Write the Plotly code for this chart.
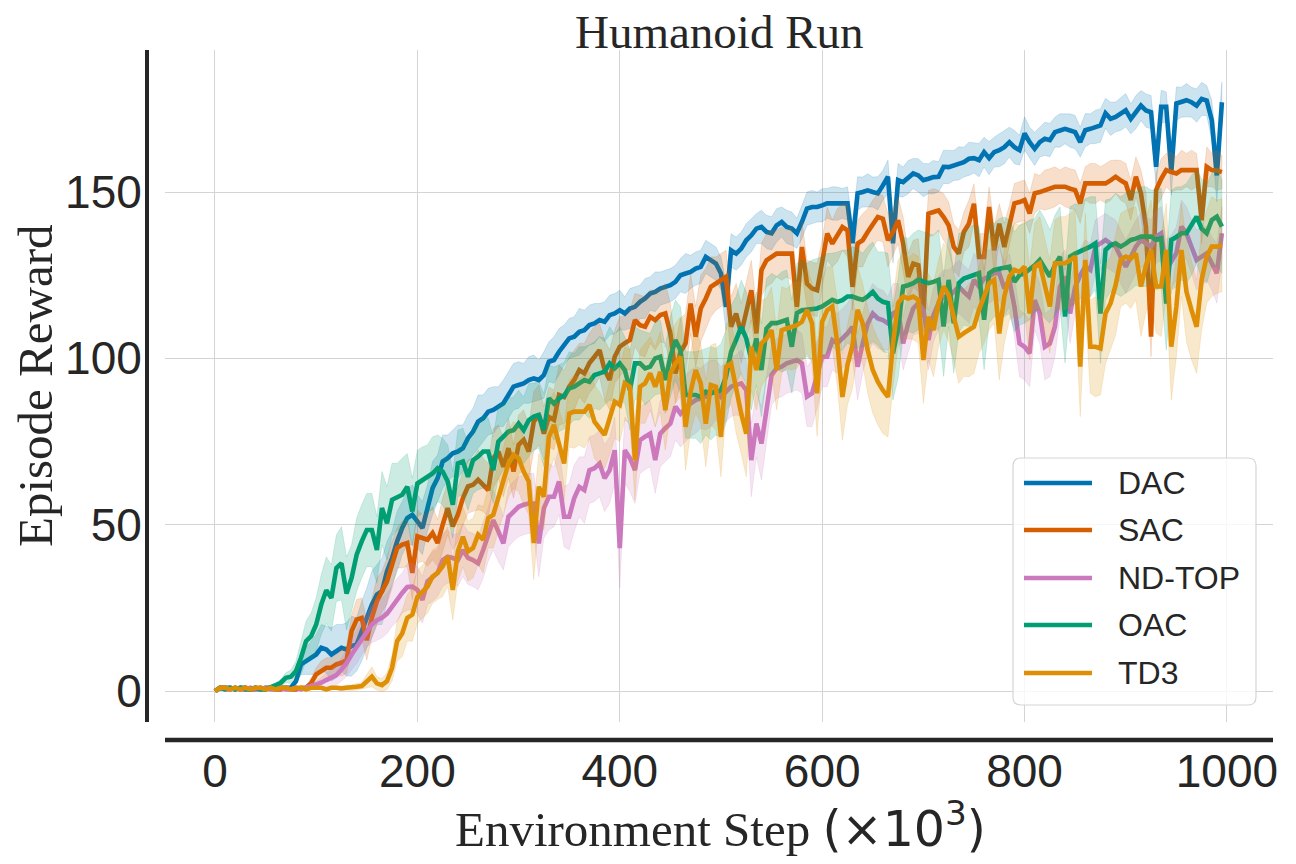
import numpy as np
import plotly.graph_objects as go

STEPS = list(range(0, 1000, 5))  # environment steps (x10^3)

NAMES = ["DAC", "SAC", "ND-TOP", "OAC", "TD3"]
COLORS = ["#0173b2", "#d55e00", "#cc78bc", "#029e73", "#de8f05"]

DAC = [
    0, 1, 1, 1, 0.5, 1, 1, 0.5, 1, 0.5,
    1, 1, 0.5, 1, 1, 1, 3, 8, 9, 10,
    11, 13, 12.5, 11, 12, 13, 12.5, 13.5, 14, 18,
    22, 26, 29, 30, 36, 40, 45, 49, 52, 53,
    51, 49, 55, 61, 64, 69, 70, 71.5, 72, 73,
    76, 78, 81, 82, 84, 84.5, 85.5, 86.5, 89, 91.5,
    92, 92.5, 93.5, 94, 93.5, 95, 99, 99.5, 102, 104,
    106, 106.5, 108, 108.5, 110, 110.5, 111.5, 111, 113, 113.5,
    114.5, 113.5, 115, 115.5, 117, 118, 119.5, 120, 121, 121.5,
    122, 123, 125, 125.5, 126, 127, 127.5, 130.5, 129.5, 128.5,
    125.5, 115.5, 132.5, 131.5, 133, 135.5, 137, 139, 139.5, 138,
    137.6, 140, 141, 139.5, 139, 137.6, 141, 145, 145.5, 145.5,
    146, 146.6, 146.6, 146.5, 146.6, 146.6, 134.6, 149.6, 150, 150.5,
    150, 149.6, 152, 154.6, 134.6, 153.6, 153, 154.5, 155.6, 155,
    153.6, 154, 154.5, 154.6, 157.6, 157.5, 158, 158.6, 159, 160,
    160.2, 159.6, 162, 160.2, 162, 162.6, 163.5, 165, 163.5, 162.6,
    167.6, 165, 163, 165, 166, 165.6, 168, 168.5, 169, 168.5,
    168, 165, 168.6, 169, 169.6, 170, 173.7, 172, 172.6, 173.5,
    174.6, 172, 174, 176, 174.5, 174, 157.6, 175.6, 175.6, 156,
    176.6, 177, 177.6, 177, 176, 178, 177.5, 171.6, 155, 177,
]
SAC = [
    0, 1, 1, 0.5, 1, 0.5, 1, 0.5, 0.5, 1,
    0.5, 1, 0.5, 0.5, 1, 0.5, 0.5, 1, 1, 2.4,
    5, 6, 7, 7, 8, 8.5, 9.3, 18, 21.5, 22,
    15.3, 22, 27, 30, 33, 38, 43, 44, 44.5, 35.5,
    46.5, 46, 45.5, 47.5, 44.5, 50, 55, 49.5, 53, 58,
    61.5, 62, 63.5, 62, 60.4, 70, 72, 67.4, 73, 66,
    74, 75.5, 72, 81, 83, 77.4, 82.4, 81.5, 89, 88.4,
    91.5, 93.5, 96.5, 95.5, 98.6, 100.5, 102.5, 96.5, 93.5, 100.5,
    103.5, 104.6, 105.5, 111.5, 110, 109.5, 112.5, 111.5, 113, 113.5,
    107.5, 95.5, 102, 104.5, 116.5, 106.5, 115, 118, 121.5, 122.5,
    123.5, 124.5, 109.5, 113.5, 107.5, 114.5, 120.5, 107.5, 126.5, 129.5,
    130.5, 131.5, 131.5, 131.5, 131.5, 115.5, 133.5, 122.5, 121, 120.5,
    128.5, 137.5, 134.5, 137, 139.5, 138.5, 121.5, 134.5, 135.5, 138,
    140.5, 142.5, 142, 135.5, 138, 141.5, 134.5, 124.5, 128.5, 128,
    112.5, 143.5, 144, 144.5, 142.5, 140, 133.5, 131.5, 138, 140.5,
    146.5, 130.5, 130.5, 145.5, 132.5, 140.5, 133.5, 140, 146.6, 147,
    147.6, 143.6, 149.6, 150, 150.6, 151, 151.6, 151.6, 151.6, 151,
    150.6, 146.6, 152.6, 152.6, 152.6, 152.6, 152.6, 153.5, 154.6, 153.5,
    152.6, 147.6, 154.6, 149.6, 139.5, 106.5, 150.6, 154, 156.6, 156,
    155.6, 156.6, 156.6, 156.6, 156.6, 141.5, 157.6, 156.6, 156.5, 156,
]
NDTOP = [
    0, 1, 0.5, 0.5, 1, 0.5, 0.5, 1, 0.5, 0.5,
    1, 0.5, 0.5, 1, 0.5, 0.5, 1, 0.5, 1, 1.5,
    1.8, 2.5, 3.3, 4, 4.8, 6.5, 8.4, 11, 13.3, 16,
    18.3, 20, 21.3, 22, 23.3, 25.5, 27.4, 29.5, 31.3, 31.4,
    30.4, 27.4, 33, 34.4, 35.5, 39.4, 40.4, 40, 39.4, 42.4,
    40, 39.4, 38.4, 42.4, 47, 51.4, 48, 44.4, 52.4, 54,
    55.4, 56, 56.4, 56.4, 44.4, 55, 58.4, 58.4, 63, 52.4,
    52.4, 58, 61.4, 60.4, 66.4, 67, 68.4, 64, 66.4, 72.4,
    43, 72.4, 70, 66.4, 75.4, 76.5, 77.4, 69.4, 77.4, 79,
    80.4, 85.5, 83.4, 85, 86.5, 87.5, 88, 88.5, 89.5, 90.5,
    88.5, 90, 91.5, 92, 92.5, 90.5, 69.4, 80.4, 74.4, 84.5,
    95, 97, 97.5, 98.5, 99, 99.5, 98.5, 88.5, 89.5, 95,
    100.5, 100.5, 105.5, 104.5, 106, 107.5, 109.5, 97.5, 104.5, 110.5,
    113.5, 112, 111.5, 110.5, 113.5, 114.5, 104.5, 110.5, 115, 116.6,
    114.5, 105.5, 113, 116.6, 118.6, 118.6, 120, 121.6, 120, 118.6,
    123.6, 121.6, 124, 124.6, 125.6, 125.6, 121, 123.5, 115.5, 104.5,
    103.5, 101.5, 117.5, 113.5, 103.5, 104.5, 109.5, 121.5, 124.6, 113.5,
    121.5, 125, 127.6, 126.6, 133.6, 134.5, 135.6, 134.5, 133.6, 130.5,
    127.6, 130.5, 133.6, 135.6, 134.5, 133.6, 136.6, 137.6, 126.6, 129,
    131.6, 139.6, 137.6, 133.5, 129.6, 130.6, 131.6, 128.6, 125.6, 137.6,
]
OAC = [
    0, 1, 0.5, 1, 0.5, 1, 0.5, 0.5, 1, 0.5,
    0.5, 1.3, 1.8, 2.5, 4, 4.3, 6, 10, 15, 16.5,
    20, 26, 30.3, 28, 37, 38.4, 29.3, 34, 41, 45,
    48.4, 48.4, 42.4, 55, 50.4, 57.5, 58.4, 59, 61.4, 54,
    62.4, 63.4, 64, 65.4, 67, 66, 63, 56, 68.4, 69,
    64.4, 69.4, 70.5, 72, 72, 66.4, 75, 76.5, 78, 78.4,
    80.4, 78.4, 81.4, 82.5, 83, 78.4, 88, 86.4, 88, 88.8,
    91, 91.5, 92.5, 93.5, 93, 95, 95.5, 96, 98.5, 97,
    98.5, 96.5, 90.5, 98.5, 98.5, 97, 97.5, 100, 100.5, 93.5,
    100.5, 105.5, 102.5, 89, 89, 89, 88.4, 90, 89.5, 90,
    90.4, 94.5, 102, 105.6, 109.5, 106, 99.5, 106, 96.5, 109,
    110.6, 110.6, 111, 111.6, 103.5, 113.6, 114.5, 114.6, 114.6, 115,
    115.6, 116.5, 117.6, 117, 117.5, 118.6, 118.6, 118, 117.6, 118.6,
    120, 118, 117, 116.6, 101.5, 109, 121.6, 122, 122.6, 123.6,
    123, 122.6, 123, 123.6, 109.6, 123.6, 110.6, 122.6, 124, 124.6,
    125, 125.6, 111.6, 125.6, 126.6, 127, 127.5, 127.6, 123, 125,
    125.6, 126.6, 128, 129.6, 127, 124.6, 128, 130.6, 112.6, 130.6,
    131.5, 132.1, 133, 133.6, 134.6, 113.5, 132.6, 134, 134.6, 133.6,
    134.5, 135.6, 136, 136.6, 136.6, 136.6, 135.6, 136.1, 116.5, 135.6,
    136.5, 137.6, 137.6, 140, 142.6, 139, 137.6, 141.6, 142.6, 139.6,
]
TD3 = [
    0, 1, 1, 0.5, 1, 0.5, 1, 0.5, 1, 1,
    0.5, 1, 0.5, 1, 1, 0.5, 1, 1, 0.5, 1,
    1, 1, 0.5, 1, 1, 0.8, 1, 1, 1.3, 1.5,
    3, 4.3, 2.3, 1.8, 3, 7, 15, 17.3, 22, 23,
    28.3, 30, 31.4, 34.4, 35.5, 37.5, 40.4, 30.4, 42, 46.4,
    42, 43, 47, 45.5, 52, 53, 58, 63.4, 68.4, 71,
    70, 66, 63, 44.5, 61.4, 58.4, 76.4, 80, 74.4, 68.4,
    83.4, 84, 84, 84, 86, 81, 79, 77, 82, 87,
    86, 92.5, 91.5, 69.4, 91.5, 92.5, 95.5, 91.5, 96, 84.4,
    95.5, 98.5, 100.5, 79.4, 90, 96.5, 92.5, 80.4, 92, 91.5,
    76.4, 97.5, 98.5, 90.5, 83.4, 77.4, 103.5, 96.5, 104.5, 106,
    108.5, 96.5, 108.5, 109, 109.5, 110, 111, 114.6, 110.5, 89.5,
    111, 114.5, 115.6, 104.5, 88.4, 98, 104, 114.6, 110.5, 102.5,
    96.5, 93, 90.4, 88.4, 104.5, 116.6, 118.6, 118, 118.6, 117.6,
    99.5, 112.5, 108.5, 116.6, 121.6, 119, 112.5, 106.5, 107.6, 108.5,
    109.5, 114.6, 118.6, 122.6, 123.6, 107.5, 118.6, 124.6, 126.6, 126,
    127.6, 113.5, 127.6, 128.6, 122, 115.6, 128.6, 128.6, 128.6, 129.5,
    130.6, 97.5, 129.6, 103.5, 103.5, 103, 113.5, 116.6, 122, 129.6,
    130.6, 130, 131.6, 121.6, 128, 132.6, 121.6, 121.6, 132.6, 103.5,
    115.5, 132.6, 120, 114.5, 109.5, 123.6, 130.6, 133.6, 133.6, 134,
]

# half-width of the shaded confidence band
DAC_SD = [
    0, .3, .3, .3, .3, .3, .3, .3, .3, .3,
    .3, .3, .3, .3, .3, .3, 1, 3, 4, 5,
    6, 7, 7, 8, 8, 7, 8, 9, 8, 9,
    9, 10, 9, 10, 9, 8, 9, 8, 8, 9,
    8, 8, 7, 8, 7, 8, 7, 7, 8, 7,
    7, 7, 8, 7, 7, 7, 6, 7, 7, 7,
    7, 6, 7, 7, 6, 7, 6, 7, 7, 6,
    6, 6, 7, 6, 6, 6, 5, 6, 6, 6,
    6, 5, 6, 6, 5, 6, 5, 6, 5, 5,
    5, 5, 5, 6, 5, 5, 5, 5, 5, 5,
    5, 7, 5, 5, 5, 5, 5, 4.5, 5, 5,
    5, 5, 4.5, 5, 5, 4.5, 5, 5, 5, 4.5,
    5, 4.5, 5, 5, 4.5, 5, 6, 5, 4.5, 5,
    4.5, 5, 4.5, 5, 6, 5, 4.5, 5, 4.5, 5,
    5, 4.5, 5, 4.5, 5, 5, 4.5, 5, 4.5, 5,
    4.5, 5, 4.5, 5, 4.5, 5, 5, 4.5, 5, 4.5,
    5, 4.5, 5, 4.5, 5, 5, 4.5, 5, 4.5, 5,
    5, 4.5, 5, 4.5, 5, 5, 4.5, 5, 4.5, 5,
    5, 4.5, 5, 4.5, 5, 5, 6, 5, 4.5, 7,
    5, 4.5, 5, 4.5, 5, 5, 4.5, 6, 8, 6,
]
SAC_SD = [
    0, .3, .3, .3, .3, .3, .3, .3, .3, .3,
    .3, .3, .3, .3, .3, .3, .3, .3, .3, 1.5,
    2, 3, 3, 3, 3, 4, 4, 5, 6, 6,
    6, 6, 7, 6, 7, 7, 6, 7, 7, 8,
    8, 7, 8, 8, 7, 8, 8, 7, 8, 8,
    8, 8, 9, 8, 8, 9, 8, 9, 9, 8,
    9, 9, 8, 9, 9, 8, 9, 9, 9, 8,
    9, 9, 8, 9, 9, 9, 8, 9, 9, 8,
    9, 8, 9, 8, 9, 9, 8, 9, 8, 9,
    9, 9, 10, 9, 9, 9, 10, 9, 9, 8,
    8, 8, 9, 9, 9, 9, 9, 8, 8, 8,
    8, 7, 8, 7, 8, 8, 8, 7, 8, 8,
    7, 8, 7, 8, 7, 8, 7, 7, 8, 7,
    7, 7, 7, 8, 7, 7, 8, 7, 7, 8,
    8, 7, 7, 6, 7, 7, 7, 7, 6, 7,
    6, 7, 7, 6, 7, 6, 7, 6, 6, 6,
    6, 6, 6, 5, 6, 6, 6, 5, 6, 6,
    6, 6, 5, 6, 6, 5, 6, 6, 5, 6,
    6, 6, 6, 7, 10, 6, 5, 6, 5, 6,
    5, 6, 5, 6, 5, 7, 6, 5, 6, 5,
]
NDTOP_SD = [
    0, .3, .3, .3, .3, .3, .3, .3, .3, .3,
    .3, .3, .3, .3, .3, .3, .3, .3, .3, .8,
    1, 1.5, 2, 2.5, 3, 3.5, 4, 4.5, 5, 5,
    5, 5.5, 6, 6, 6, 6, 6.5, 6, 7, 7,
    7, 7, 7, 7.5, 7, 8, 8, 7, 8, 8,
    8, 8, 8, 8.5, 8, 9, 9, 8, 9, 9,
    9, 9, 9, 9, 10, 9, 10, 9, 10, 9,
    10, 10, 9, 10, 10, 10, 10, 10, 10, 10,
    12, 10, 10, 10, 10, 10, 10, 10, 10, 10,
    10, 10, 10, 10, 10, 10, 9, 10, 10, 9,
    9, 9, 9, 9, 10, 9, 11, 10, 11, 10,
    9, 9, 9, 9, 9, 9, 9, 9, 10, 10,
    9, 9, 9, 9, 9, 9, 10, 10, 9, 9,
    9, 9, 9, 8, 9, 8, 8, 9, 8, 9,
    9, 9, 8, 8, 8, 8, 8, 8, 8, 8,
    8, 8, 8, 8, 8, 8, 8, 8, 9, 10,
    10, 10, 9, 9, 10, 10, 9, 9, 8, 9,
    8, 8, 8, 8, 8, 8, 8, 8, 8, 8,
    8, 8, 8, 8, 8, 8, 8, 8, 9, 8,
    8, 8, 8, 8, 9, 9, 8, 8, 9, 8,
]
OAC_SD = [
    0, .3, .3, .3, .3, .3, .3, .3, .3, .3,
    .3, .5, .5, 1, 1.5, 2, 3, 5, 6, 7,
    8, 9, 10, 10, 10, 11, 11, 10, 11, 11,
    11, 11, 10, 11, 11, 11, 10, 11, 10, 10,
    10, 10, 10, 11, 10, 10, 11, 10, 10, 10,
    10, 10, 10, 11, 10, 10, 11, 10, 10, 10,
    10, 10, 11, 10, 10, 11, 10, 11, 10, 10,
    11, 10, 11, 10, 11, 10, 11, 10, 11, 10,
    11, 10, 12, 11, 10, 11, 10, 11, 11, 10,
    12, 12, 13, 13, 13, 13, 14, 13, 14, 13,
    14, 14, 14, 13, 14, 14, 15, 14, 14, 15,
    15, 14, 15, 15, 14, 15, 15, 14, 15, 15,
    15, 15, 14, 15, 15, 14, 15, 15, 14, 15,
    15, 14, 15, 15, 14, 15, 15, 14, 15, 15,
    15, 15, 14, 15, 15, 14, 15, 15, 14, 15,
    15, 14, 15, 15, 14, 15, 15, 14, 15, 15,
    15, 15, 14, 15, 15, 14, 15, 15, 14, 15,
    15, 14, 15, 15, 14, 15, 15, 14, 15, 15,
    15, 15, 14, 15, 15, 14, 15, 15, 14, 15,
    15, 14, 15, 15, 14, 15, 15, 14, 15, 14,
]
TD3_SD = [
    0, .3, .3, .3, .3, .3, .3, .3, .3, .3,
    .3, .3, .3, .3, .3, .3, .3, .3, .3, .3,
    .3, .5, .5, .5, .5, .5, .8, .8, 1, 1,
    2, 3, 2, 2, 2.5, 4, 6, 7, 7, 8,
    8, 8, 8, 8, 8, 9, 9, 9, 9, 9,
    9, 9, 9, 10, 9, 10, 10, 10, 10, 10,
    10, 10, 10, 11, 10, 10, 11, 10, 10, 11,
    10, 11, 10, 11, 10, 11, 11, 10, 11, 11,
    11, 11, 11, 12, 11, 12, 11, 12, 12, 12,
    12, 12, 12, 13, 12, 13, 12, 13, 12, 13,
    12, 13, 12, 13, 12, 13, 13, 12, 13, 12,
    13, 12, 13, 12, 13, 13, 12, 13, 12, 13,
    13, 13, 12, 13, 13, 12, 13, 13, 12, 13,
    13, 13, 13, 12, 13, 13, 13, 12, 13, 13,
    13, 13, 14, 13, 13, 14, 13, 14, 13, 14,
    14, 13, 14, 14, 13, 14, 14, 13, 14, 14,
    14, 14, 13, 14, 14, 14, 13, 14, 14, 14,
    14, 15, 14, 14, 15, 14, 15, 14, 15, 14,
    14, 15, 14, 15, 14, 15, 14, 15, 14, 16,
    15, 14, 15, 15, 14, 15, 14, 15, 14, 14,
]

MEANS = [DAC, SAC, NDTOP, OAC, TD3]
SDS = [DAC_SD, SAC_SD, NDTOP_SD, OAC_SD, TD3_SD]

X_TICKS = [0, 200, 400, 600, 800, 1000]
Y_TICKS = [0, 50, 100, 150]

TEXT = "#262626"
SANS = "Liberation Sans, Arial, sans-serif"
SERIF = "Liberation Serif, Times New Roman, serif"


def rgba(hex_color, a):
    h = hex_color.lstrip("#")
    return f"rgba({int(h[0:2],16)},{int(h[2:4],16)},{int(h[4:6],16)},{a})"


fig = go.Figure()
x = np.array(STEPS, dtype=float)
for name, col, m, s in zip(NAMES, COLORS, MEANS, SDS):
    n = min(len(x), len(m), len(s))
    xm = x[:n]
    mm = np.array(m[:n], dtype=float)
    ss = np.array(s[:n], dtype=float)
    up = mm + ss
    lo = mm - ss
    fig.add_trace(go.Scatter(
        x=np.concatenate([xm, xm[::-1]]),
        y=np.concatenate([up, lo[::-1]]),
        fill="toself", fillcolor=rgba(col, 0.2),
        line=dict(width=0.8, color=rgba(col, 0.2)),
        mode="lines", hoverinfo="skip", showlegend=False,
    ))
    fig.add_trace(go.Scatter(
        x=xm, y=mm, mode="lines", name=name,
        line=dict(color=col, width=4.6),
        showlegend=False,
    ))

# plot area in pixels: x 165..1273, y 50..722
L, R, T, B = 165, 1273, 50, 722
W, H = R - L, B - T


def px(xp):
    return (xp - L) / W


def py(yp):
    return (B - yp) / H


shapes = []
# offset spines
shapes.append(dict(type="line", xref="paper", yref="paper",
                   x0=px(147), x1=px(147), y0=0, y1=1,
                   line=dict(color=TEXT, width=4)))
shapes.append(dict(type="line", xref="paper", yref="paper",
                   x0=0, x1=1, y0=py(740), y1=py(740),
                   line=dict(color=TEXT, width=4.5)))

# custom legend box with rounded corners
bx0, bx1, by0, by1 = px(1013), px(1256), py(705), py(458)
rx, ry = 8 / W, 8 / H
path = (f"M {bx0+rx},{by0} L {bx1-rx},{by0} Q {bx1},{by0} {bx1},{by0+ry} "
        f"L {bx1},{by1-ry} Q {bx1},{by1} {bx1-rx},{by1} "
        f"L {bx0+rx},{by1} Q {bx0},{by1} {bx0},{by1-ry} "
        f"L {bx0},{by0+ry} Q {bx0},{by0} {bx0+rx},{by0} Z")
shapes.append(dict(type="path", xref="paper", yref="paper", path=path,
                   fillcolor="rgba(255,255,255,0.8)",
                   line=dict(color="#d5d5d5", width=1.2), layer="above"))

annotations = []
row_y = [483, 530, 578, 625, 673]
for name, col, ry_ in zip(NAMES, COLORS, row_y):
    shapes.append(dict(type="line", xref="paper", yref="paper",
                       x0=px(1024), x1=px(1092), y0=py(ry_), y1=py(ry_),
                       line=dict(color=col, width=4.6), layer="above"))
    annotations.append(dict(xref="paper", yref="paper", x=px(1116), y=py(ry_),
                            text=name, showarrow=False, xanchor="left",
                            yanchor="middle",
                            font=dict(family=SANS, size=32, color=TEXT)))

annotations.append(dict(xref="paper", yref="paper", x=0.5, y=py(32),
                        text="Humanoid Run", showarrow=False,
                        xanchor="center", yanchor="middle",
                        font=dict(family=SERIF, size=47, color=TEXT)))
annotations.append(dict(xref="paper", yref="paper", x=px(35), y=py(386),
                        text="Episode Reward", showarrow=False, textangle=-90,
                        xanchor="center", yanchor="middle",
                        font=dict(family=SERIF, size=49, color=TEXT)))
annotations.append(dict(
    xref="paper", yref="paper", x=px(720), y=py(826),
    text=("Environment Step "
          "<span style='font-family:DejaVu Sans'>(×10<sup>3</sup>)</span>"),
    showarrow=False, xanchor="center", yanchor="middle",
    font=dict(family=SERIF, size=49, color=TEXT)))

fig.update_layout(
    width=1296, height=864,
    margin=dict(l=L, r=1296 - R, t=T, b=864 - B),
    paper_bgcolor="white", plot_bgcolor="white",
    showlegend=False,
    shapes=shapes, annotations=annotations,
    xaxis=dict(range=[-49.4, 1045.5], tickvals=X_TICKS,
               ticktext=[str(v) for v in X_TICKS],
               showgrid=True, gridcolor="#d4d4d4", gridwidth=1,
               zeroline=False, showline=False,
               ticks="outside", ticklen=9, tickcolor="rgba(0,0,0,0)",
               tickfont=dict(family=SANS, size=46, color=TEXT)),
    yaxis=dict(range=[-9.3, 192.7], tickvals=Y_TICKS,
               ticktext=[str(v) for v in Y_TICKS],
               showgrid=True, gridcolor="#d4d4d4", gridwidth=1,
               zeroline=False, showline=False,
               ticks="outside", ticklen=13, tickcolor="rgba(0,0,0,0)",
               tickfont=dict(family=SANS, size=46, color=TEXT)),
)

fig.write_html("out.html",
               config={"displayModeBar": False},
               post_script="document.body.style.margin='0';"
                           "document.body.style.padding='0';")
